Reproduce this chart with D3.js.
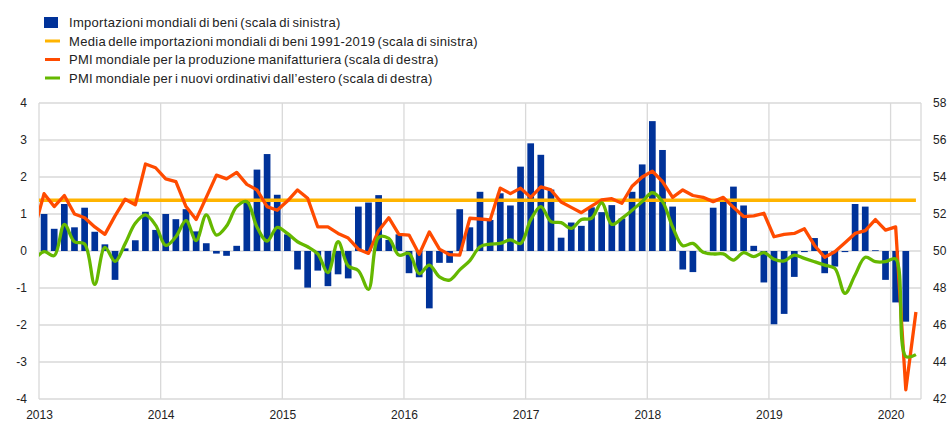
<!DOCTYPE html>
<html>
<head>
<meta charset="utf-8">
<script src="https://cdn.jsdelivr.net/npm/d3@7"></script>
<style>
  body { margin: 0; background: #fff; }
  svg { display: block; font-family: "Liberation Sans", Arial, sans-serif; }
  .tick text { font-size: 12px; fill: #222; }
</style>
</head>
<body>
<svg id="chart" width="951" height="423"></svg>
<script>
// months Jan 2013 .. Mar 2020 (lines also carry Dec 2012, clipped at the left edge)
var years = [2013, 2014, 2015, 2016, 2017, 2018, 2019, 2020];

// world goods imports, 3m-on-3m % (left scale), Jan 2013 .. Feb 2020
var imports = [
  1.0, 0.6, 1.27, 0.64, 1.17, 0.52, 0.18, -0.78, 0.07, 0.29, 1.06, 0.57,
  1.0, 0.86, 1.13, 0.53, 0.21, -0.07, -0.13, 0.14, 1.33, 2.2, 2.62, 1.52,
  0.45, -0.5, -0.99, -0.53, -0.95, -0.63, -0.74, 1.2, 1.31, 1.51, 0.3, 0.45,
  -0.6, -0.71, -1.55, -0.32, -0.32, 1.13, 0.64, 1.6, 0.84, 1.56, 1.23, 2.28,
  2.91, 2.6, 1.66, 0.36, 0.77, 0.68, 1.18, 1.05, 1.24, 0.88, 1.6, 2.34,
  3.51, 2.73, 1.2, -0.5, -0.57, 0.0, 1.17, 1.38, 1.74, 1.23, 0.14, -0.85,
  -1.98, -1.7, -0.7, -0.03, 0.35, -0.6, -0.42, -0.03, 1.27, 1.2, 0.02, -0.78,
  -1.39, -1.91
];

// average 1991-2019 (left scale)
var importsAvg = 1.37;

// PMI manufacturing output (right scale), Dec 2012 .. Mar 2020
var pmiOutput = [
  51.1,
  53.1, 52.4, 53.0, 52.0, 51.8, 51.3, 50.9, 51.9, 52.8, 52.5, 54.7, 54.5,
  53.9, 53.75, 52.4, 51.7, 52.9, 54.1, 53.9, 54.25, 53.6, 53.3, 52.4, 52.2,
  52.7, 53.3, 52.85, 51.3, 51.3, 50.95, 50.7, 50.1, 49.87, 51.1, 51.8, 50.9,
  50.86, 49.82, 51.03, 50.1, 49.8, 49.78, 51.77, 51.73, 51.68, 53.4, 53.1, 53.4,
  52.9, 53.47, 53.3, 52.65, 52.36, 52.07, 52.43, 52.76, 52.83, 52.58, 53.5, 54.0,
  54.32, 53.75, 52.9, 53.3, 53.0, 52.9, 52.67, 52.9, 52.36, 51.86, 51.9, 52.04,
  50.77, 50.9, 50.95, 51.2, 50.3, 49.66, 49.96, 50.45, 50.95, 51.1, 51.7, 51.13,
  51.3, 42.5, 46.7
];

// PMI new export orders (right scale), Dec 2012 .. Mar 2020
var pmiExport = [
  49.5,
  49.96, 49.75, 51.44, 50.5, 50.38, 48.2, 50.2, 49.44, 50.4, 51.5, 51.95, 51.4,
  50.3, 50.77, 51.64, 50.56, 51.95, 50.86, 51.35, 52.4, 52.67, 51.3, 50.54, 51.28,
  50.95, 50.5, 50.23, 49.84, 48.83, 50.5, 49.19, 48.94, 47.93, 50.74, 50.68, 49.78,
  49.87, 48.77, 49.24, 48.6, 48.43, 48.98, 49.48, 50.23, 50.37, 50.41, 50.6, 50.41,
  51.68, 52.4, 51.59, 51.53, 51.22, 51.7, 51.77, 52.6, 51.44, 51.77, 52.2, 52.67,
  53.15, 52.67, 51.3, 50.29, 50.41, 49.93, 49.84, 49.84, 49.51, 49.91, 49.7, 49.91,
  49.55, 49.46, 49.78, 49.6, 49.42, 49.24, 49.06, 47.71, 48.7, 49.66, 49.42, 49.42,
  49.57, 44.3, 44.4
];

var leftTicks = [-4, -3, -2, -1, 0, 1, 2, 3, 4];
var rightTicks = [42, 44, 46, 48, 50, 52, 54, 56, 58];

var legendItems = [
  {label: "Importazioni mondiali di beni (scala di sinistra)", color: "#003299", type: "box"},
  {label: "Media delle importazioni mondiali di beni 1991-2019 (scala di sinistra)", color: "#ffb400", type: "line"},
  {label: "PMI mondiale per la produzione manifatturiera (scala di destra)", color: "#ff4b00", type: "line"},
  {label: "PMI mondiale per i nuovi ordinativi dall\u2019estero (scala di destra)", color: "#65b800", type: "line"}
];

var svg = d3.select("#chart");
var L = 39, R = 921, T = 103, B = 399;
var nMonths = 87; // Jan 2013 .. Mar 2020

var x = d3.scaleLinear().domain([0, nMonths]).range([L, R]);
var yL = d3.scaleLinear().domain([-4, 4]).range([B, T]);
var yR = d3.scaleLinear().domain([42, 58]).range([B, T]);

// grid
var grid = svg.append("g").attr("class", "grid");
grid.selectAll("line.h").data(leftTicks).enter().append("line")
  .attr("x1", L).attr("x2", R)
  .attr("y1", function (d) { return yL(d); })
  .attr("y2", function (d) { return yL(d); })
  .style("stroke", "#d9d9d9").style("stroke-width", 1.3);
var vTicks = years.map(function (y, i) { return i * 12; }).concat([nMonths]);
grid.selectAll("line.v").data(vTicks).enter().append("line")
  .attr("x1", function (d) { return x(d); })
  .attr("x2", function (d) { return x(d); })
  .attr("y1", T).attr("y2", B)
  .style("stroke", "#d9d9d9").style("stroke-width", 1.3);

// bars
var barW = x(0.66) - x(0);
svg.append("g").selectAll("rect").data(imports).enter().append("rect")
  .attr("x", function (d, i) { return x(i + 0.17); })
  .attr("width", barW)
  .attr("y", function (d) { return yL(Math.max(0, d)); })
  .attr("height", function (d) { return Math.max(0.8, Math.abs(yL(d) - yL(0))); })
  .style("fill", "#003299");

// clip for lines
svg.append("clipPath").attr("id", "plotclip").append("rect")
  .attr("x", L).attr("y", 0).attr("width", R - L).attr("height", 423);

var lines = svg.append("g").attr("clip-path", "url(#plotclip)");

// average line
lines.append("line")
  .attr("x1", x(-0.5)).attr("x2", x(nMonths - 0.5))
  .attr("y1", yL(importsAvg)).attr("y2", yL(importsAvg))
  .style("stroke", "#ffb400").style("stroke-width", 3.5);

var lineOut = d3.line()
  .x(function (d, i) { return x(i - 0.5); })
  .y(function (d) { return yR(d); });
lines.append("path").datum(pmiOutput)
  .attr("d", lineOut)
  .style("fill", "none").style("stroke", "#ff4b00")
  .style("stroke-width", 3.3).style("stroke-linejoin", "round");

var lineExp = d3.line()
  .curve(d3.curveCatmullRom.alpha(0.5))
  .x(function (d, i) { return x(i - 0.5); })
  .y(function (d) { return yR(d); });
lines.append("path").datum(pmiExport)
  .attr("d", lineExp)
  .style("fill", "none").style("stroke", "#65b800")
  .style("stroke-width", 3.3).style("stroke-linejoin", "round");

// axes (plain hyphen for negatives, as in the original)
var fmt = function (d) { return String(d); };
var axL = svg.append("g").attr("transform", "translate(" + (L - 12) + ",0)")
  .call(d3.axisLeft(yL).tickValues(leftTicks).tickFormat(fmt).tickSize(0).tickPadding(0));
axL.select(".domain").remove();

var axR = svg.append("g").attr("transform", "translate(" + (R + 12) + ",0)")
  .call(d3.axisRight(yR).tickValues(rightTicks).tickFormat(fmt).tickSize(0).tickPadding(0));
axR.select(".domain").remove();

var axB = svg.append("g").attr("transform", "translate(0," + (B + 11) + ")")
  .call(d3.axisBottom(x).tickValues(vTicks.slice(0, years.length))
    .tickFormat(function (d) { return years[d / 12]; }).tickSize(0).tickPadding(0));
axB.select(".domain").remove();
svg.selectAll(".tick text").style("font-family", "'Liberation Sans', Arial, sans-serif");

// legend
var lg = svg.append("g").attr("class", "legend");
var rows = lg.selectAll("g").data(legendItems).enter().append("g")
  .attr("transform", function (d, i) { return "translate(44," + (22.5 + i * 18.5) + ")"; });
rows.filter(function (d) { return d.type === "box"; }).append("rect")
  .attr("x", 0).attr("y", -5.5).attr("width", 14).attr("height", 11)
  .style("fill", function (d) { return d.color; });
rows.filter(function (d) { return d.type === "line"; }).append("line")
  .attr("x1", 1).attr("x2", 16).attr("y1", 0).attr("y2", 0)
  .style("stroke", function (d) { return d.color; }).style("stroke-width", 3);
rows.append("text")
  .attr("x", 25).attr("y", 4.6)
  .style("font-size", "13px").style("fill", "#222")
  .style("letter-spacing", "0.3px")
  .style("word-spacing", "-1.5px")
  .text(function (d) { return d.label; });
</script>
</body>
</html>
